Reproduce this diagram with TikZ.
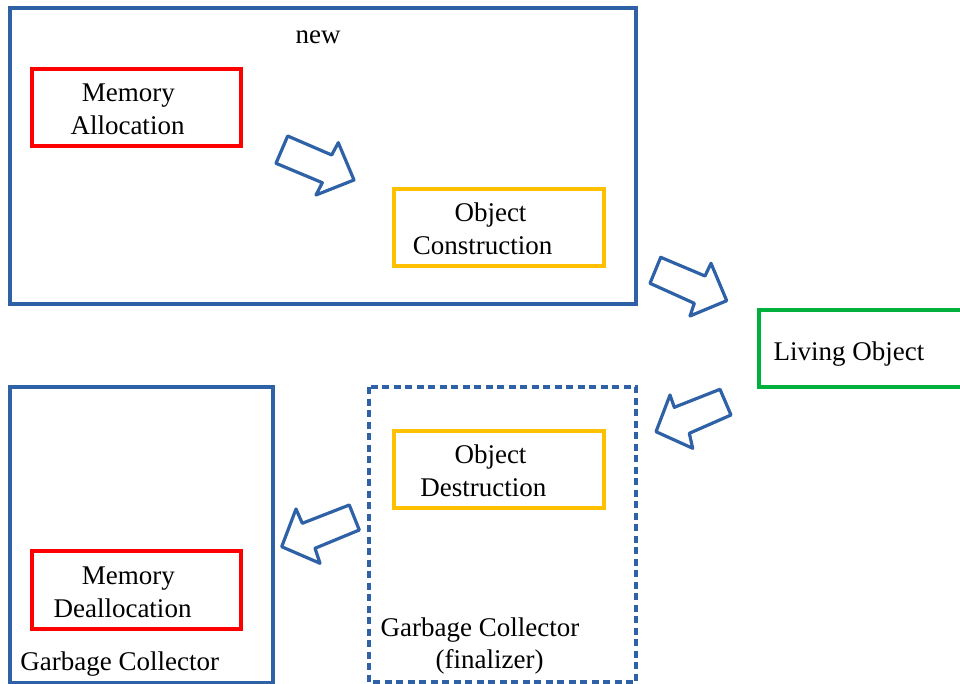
\documentclass[tikz,border=0pt]{standalone}
\usepackage{fontspec}
\setmainfont{Liberation Serif}
\definecolor{frameblue}{RGB}{47,97,166}
\definecolor{allocred}{RGB}{255,0,0}
\definecolor{stepyellow}{RGB}{255,192,0}
\definecolor{livegreen}{RGB}{0,176,60}
\begin{document}
\begin{tikzpicture}[x=1pt,y=-1pt,
  frame/.style={draw=frameblue,line width=3.2pt},
  dashframe/.style={draw=frameblue,line width=3.2pt,dash pattern=on 7pt off 4.5pt},
  membox/.style={draw=allocred,line width=3.4pt},
  objbox/.style={draw=stepyellow,line width=3.4pt},
  livebox/.style={draw=livegreen,line width=3.4pt},
  blockarrow/.style={draw=frameblue,line width=3.2pt,line join=round,fill=white},
  lbl/.style={inner sep=0pt,anchor=base,font=\fontsize{27}{32.5}\selectfont}]
\useasboundingbox (0,0) rectangle (960,684);
\clip (0,0) rectangle (960,684);

% frames
\draw[frame] (10,8) rectangle (636,304);
\draw[frame] (10,387) rectangle (273,683);
\draw[dashframe] (369,387) rectangle (636,682);

% inner boxes
\draw[membox] (32,69) rectangle (241,146);
\draw[objbox] (394,189) rectangle (604,266);
\draw[livebox] (759,310) rectangle (975,387);
\draw[objbox] (394,431) rectangle (604,508);
\draw[membox] (32,551) rectangle (241,629);

% labels
\node[lbl] (newlbl) at (318,43.5) {new};
\node[lbl] (alloc1) at (128.3,102) {Memory};
\node[lbl] (alloc2) at (127.5,135) {Allocation};
\node[lbl] (cons1) at (490.5,221.3) {Object};
\node[lbl] (cons2) at (482.5,254.3) {Construction};
\node[lbl] (living) at (849,360) {Living Object};
\node[lbl] (dest1) at (490.5,463.3) {Object};
\node[lbl] (dest2) at (483.3,496.5) {Destruction};
\node[lbl] (dealloc1) at (128.3,584) {Memory};
\node[lbl] (dealloc2) at (122.5,617.3) {Deallocation};
\node[lbl] (gclbl) at (119.7,670) {Garbage Collector};
\node[lbl] (fin1) at (480,636) {Garbage Collector};
\node[lbl] (fin2) at (489.7,668.5) {(finalizer)};

% block arrows between the stages
\draw[blockarrow] (287.7,136) -- (331.7,155) -- (338.3,142.7) -- (354,180)
  -- (316,195) -- (322.3,182.7) -- (276,163.3) -- cycle;
\draw[blockarrow] (660.7,257.3) -- (705,276) -- (711,263.3) -- (726.7,300.7)
  -- (690,316) -- (694.3,303.3) -- (650,283.3) -- cycle;
\draw[blockarrow] (720,389.3) -- (731,415) -- (689.3,433.3) -- (692.7,448.3)
  -- (656,431.7) -- (670,395) -- (674.3,407.3) -- cycle;
\draw[blockarrow] (349.3,505) -- (359.3,530) -- (315,548.3) -- (320,563.3)
  -- (281.7,546.7) -- (296,509) -- (302.3,523.3) -- cycle;
\end{tikzpicture}
\end{document}
